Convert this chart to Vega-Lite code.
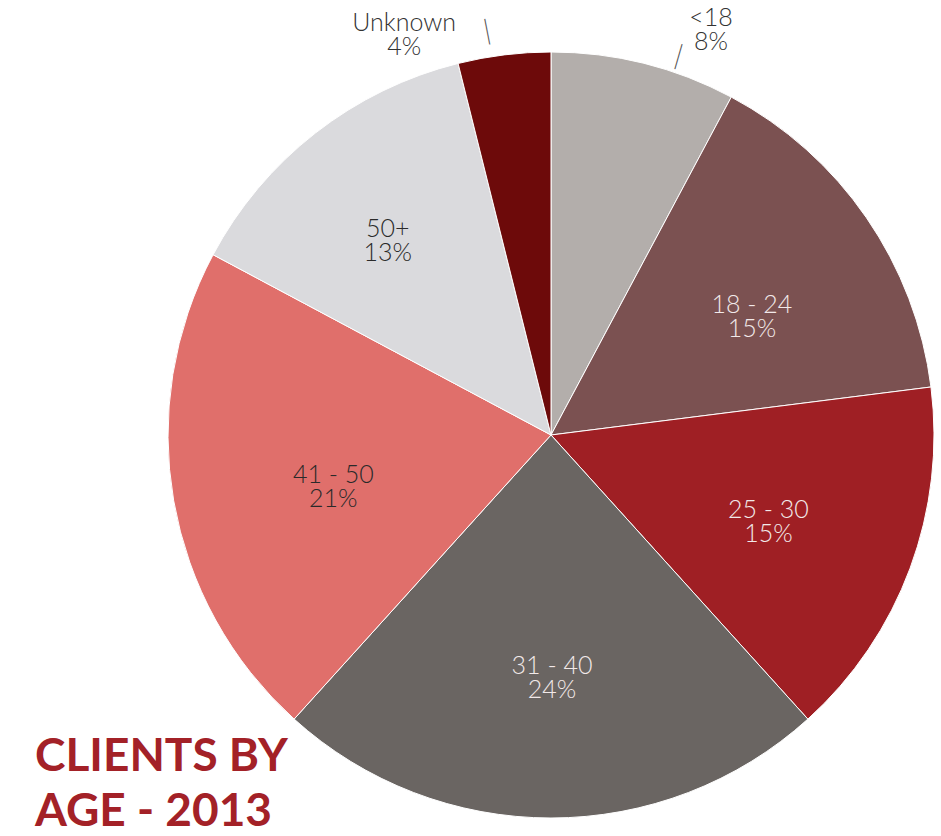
{
  "$schema": "https://vega.github.io/schema/vega-lite/v6.json",
  "width": 766,
  "height": 766,
  "autosize": {"type": "none"},
  "padding": {"left": 168, "top": 52, "right": 7, "bottom": 18},
  "background": "white",
  "view": {"stroke": null},
  "title": {
    "text": ["CLIENTS BY", "AGE - 2013"],
    "orient": "bottom",
    "anchor": "start",
    "frame": "group",
    "offset": 0,
    "dx": -133,
    "dy": -149,
    "font": "Lato",
    "fontSize": 46,
    "fontWeight": "bold",
    "color": "#a32127",
    "lineHeight": 55
  },
  "data": {
    "values": [
      {"cat": "<18", "label": "<18\n8%", "value": 7.8, "order": 1},
      {"cat": "18 - 24", "label": "18 - 24\n15%", "value": 15.2, "order": 2},
      {"cat": "25 - 30", "label": "25 - 30\n15%", "value": 15.3, "order": 3},
      {"cat": "31 - 40", "label": "31 - 40\n24%", "value": 23.4, "order": 4},
      {"cat": "41 - 50", "label": "41 - 50\n21%", "value": 21.1, "order": 5},
      {"cat": "50+", "label": "50+\n13%", "value": 13.3, "order": 6},
      {"cat": "Unknown", "label": "Unknown\n4%", "value": 3.9, "order": 7}
    ]
  },
  "encoding": {
    "theta": {"field": "value", "type": "quantitative", "stack": true},
    "order": {"field": "order", "type": "quantitative"}
  },
  "layer": [
    {
      "mark": {"type": "arc", "stroke": "white", "strokeWidth": 1},
      "encoding": {
        "color": {
          "field": "cat",
          "type": "nominal",
          "legend": null,
          "scale": {
            "domain": ["<18", "18 - 24", "25 - 30", "31 - 40", "41 - 50", "50+", "Unknown"],
            "range": ["#b3aeab", "#7b5151", "#9f1f24", "#6a6562", "#e06f6b", "#dadadd", "#6d0a0a"]
          }
        }
      }
    },
    {
      "mark": {"type": "text", "radius": 233, "dx": 9, "dy": 2, "font": "Lato", "fontWeight": 300, "fontSize": 25, "lineHeight": 24, "lineBreak": "\n", "baseline": "middle", "align": "center", "color": "#f2e9e9"},
      "encoding": {"text": {"condition": {"test": "datum.cat === '18 - 24'", "field": "label"}, "value": ""}}
    },
    {
      "mark": {"type": "text", "radius": 234, "dx": -2, "dy": -6, "font": "Lato", "fontWeight": 300, "fontSize": 25, "lineHeight": 24, "lineBreak": "\n", "baseline": "middle", "align": "center", "color": "#f2e9e9"},
      "encoding": {"text": {"condition": {"test": "datum.cat === '25 - 30'", "field": "label"}, "value": ""}}
    },
    {
      "mark": {"type": "text", "radius": 242, "dx": 1, "dy": -11, "font": "Lato", "fontWeight": 300, "fontSize": 25, "lineHeight": 24, "lineBreak": "\n", "baseline": "middle", "align": "center", "color": "#f2e9e9"},
      "encoding": {"text": {"condition": {"test": "datum.cat === '31 - 40'", "field": "label"}, "value": ""}}
    },
    {
      "mark": {"type": "text", "radius": 223, "dx": 2, "dy": 2, "font": "Lato", "fontWeight": 300, "fontSize": 25, "lineHeight": 24, "lineBreak": "\n", "baseline": "middle", "align": "center", "color": "#2a2a2a"},
      "encoding": {"text": {"condition": {"test": "datum.cat === '41 - 50'", "field": "label"}, "value": ""}}
    },
    {
      "mark": {"type": "text", "radius": 254, "dx": -7, "dy": -6, "font": "Lato", "fontWeight": 300, "fontSize": 25, "lineHeight": 24, "lineBreak": "\n", "baseline": "middle", "align": "center", "color": "#2a2a2a"},
      "encoding": {"text": {"condition": {"test": "datum.cat === '50+'", "field": "label"}, "value": ""}}
    },
    {
      "mark": {"type": "text", "radius": 416, "dx": -96, "dy": 1, "font": "Lato", "fontWeight": 300, "fontSize": 25, "lineHeight": 24, "lineBreak": "\n", "baseline": "middle", "align": "center", "color": "#333333"},
      "encoding": {"text": {"condition": {"test": "datum.cat === 'Unknown'", "field": "label"}, "value": ""}}
    },
    {
      "mark": {"type": "text", "radius": 433, "dx": 55, "dy": 3, "font": "Lato", "fontWeight": 300, "fontSize": 25, "lineHeight": 24, "lineBreak": "\n", "baseline": "middle", "align": "center", "color": "#333333"},
      "encoding": {"text": {"condition": {"test": "datum.cat === '<18'", "field": "label"}, "value": ""}}
    },
    {
      "mark": {"type": "text", "radius": 410, "dx": -14, "dy": 1, "angle": -11, "font": "Lato", "fontWeight": 300, "fontSize": 28, "baseline": "middle", "align": "center", "color": "#555555"},
      "encoding": {"text": {"condition": {"test": "datum.cat === 'Unknown'", "value": "|"}, "value": ""}}
    },
    {
      "mark": {"type": "text", "radius": 400, "dx": 32, "dy": 1, "angle": 16, "font": "Lato", "fontWeight": 300, "fontSize": 28, "baseline": "middle", "align": "center", "color": "#555555"},
      "encoding": {"text": {"condition": {"test": "datum.cat === '<18'", "value": "|"}, "value": ""}}
    }
  ]
}
